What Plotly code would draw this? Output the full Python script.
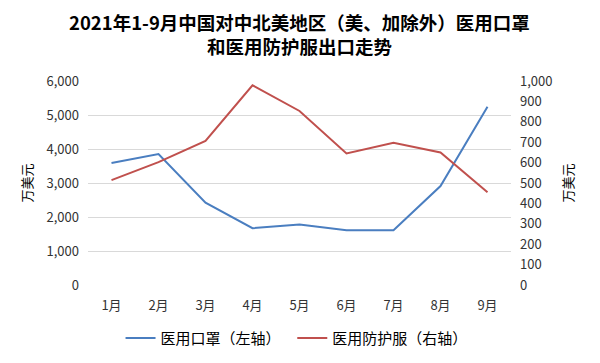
import plotly.graph_objects as go

months = ["1月", "2月", "3月", "4月", "5月", "6月", "7月", "8月", "9月"]
masks = [3590, 3850, 2420, 1670, 1780, 1610, 1610, 2910, 5240]
suits = [514, 602, 706, 979, 853, 645, 697, 650, 455]
left_ticks = [0, 1000, 2000, 3000, 4000, 5000, 6000]
right_ticks = [0, 100, 200, 300, 400, 500, 600, 700, 800, 900, 1000]
title_lines = ["<b>2021年1-9月中国对中北美地区（美、加除外）医用口罩</b>",
               "<b>和医用防护服出口走势</b>"]

FONT = "Noto Sans CJK SC"
TXT = "#333333"

fig = go.Figure()
fig.add_trace(go.Scatter(x=months, y=masks, mode="lines", name="医用口罩（左轴）  ",
                         line=dict(color="#4A7EC0", width=2)))
fig.add_trace(go.Scatter(x=months, y=suits, mode="lines", name="医用防护服（右轴）",
                         line=dict(color="#C0504D", width=2), yaxis="y2"))

for txt, yy in zip(title_lines, [1.287, 1.170]):
    fig.add_annotation(
        text=txt, xref="paper", yref="paper", x=0.501, xanchor="center",
        y=yy, yanchor="middle", showarrow=False,
        font=dict(family=FONT, size=18.5, color="#000000"))

fig.update_layout(
    width=592, height=355,
    paper_bgcolor="white", plot_bgcolor="white",
    margin=dict(l=80, r=89, t=73, b=78, autoexpand=False),
    font=dict(family=FONT, size=13, color=TXT),
    xaxis=dict(showgrid=False, showline=False, zeroline=False, ticks="",
               tickfont=dict(size=13, color=TXT), range=[-0.5, 8.5],
               ticklabelstandoff=11),
    yaxis=dict(range=[0, 6000], tickvals=left_ticks, tickformat=",", showgrid=True,
               gridcolor="#D9D9D9", gridwidth=1, zeroline=False, ticks="",
               tickfont=dict(size=13, color=TXT), ticklabelstandoff=8,
               title=dict(text="万美元", font=dict(size=13, color="#000000"), standoff=10)),
    yaxis2=dict(range=[0, 1000], tickvals=right_ticks, tickformat=",", overlaying="y",
                side="right", showgrid=False, zeroline=False, ticks="",
                tickfont=dict(size=13, color=TXT), ticklabelstandoff=8,
                title=dict(text="万美元", font=dict(size=13, color="#000000"), standoff=12)),
    legend=dict(orientation="h", x=0.493, xanchor="center", y=-0.18, yanchor="top",
                font=dict(size=15, color="#000000"), itemwidth=30),
    showlegend=True,
)

fig.write_html("out.html")
